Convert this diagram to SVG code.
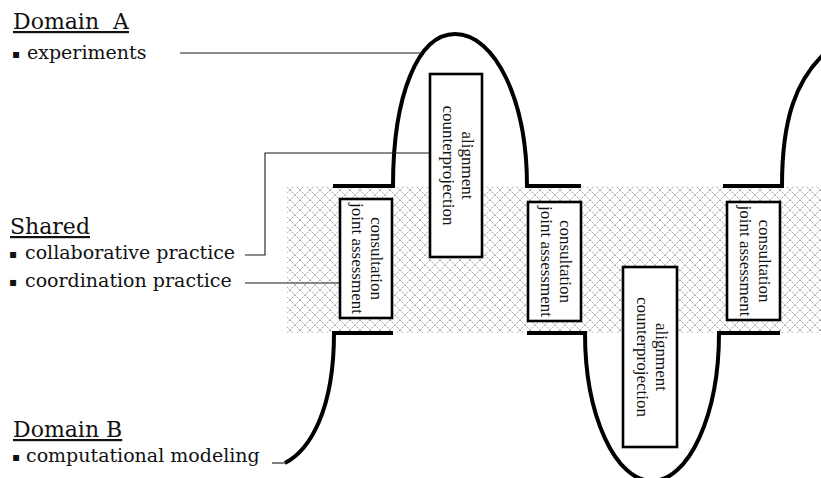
<svg xmlns="http://www.w3.org/2000/svg" width="821" height="478" viewBox="0 0 821 478">
<defs>
<pattern id="hatch" width="10" height="10" patternUnits="userSpaceOnUse">
<path d="M0,0 L10,10 M10,0 L0,10" stroke="#a6a6a6" stroke-width="1" stroke-dasharray="1.6,0.8" fill="none"/>
</pattern>
<style>
.lbl{font-family:"DejaVu Serif","Liberation Serif",serif;fill:#111;}
.head{font-size:22px;text-decoration:underline;white-space:pre;}
.item{font-size:19px;}
.bul{font-family:"DejaVu Sans",sans-serif;font-size:12px;}
.box{fill:#fff;stroke:#000;stroke-width:2.6;}
.bt{font-family:"Liberation Serif","Times New Roman",serif;font-size:17px;fill:#111;text-anchor:middle;}
.wave{fill:none;stroke:#000;stroke-width:4;stroke-linejoin:miter;}
.conn{fill:none;stroke:#1a1a1a;stroke-width:1.1;}
</style>
</defs>
<rect id="shared-band" x="287" y="186" width="534" height="147" fill="url(#hatch)"/>
<g id="wave">
<path class="wave" d="M285,463 C310,450 334,410 334,333 H393"/>
<path class="wave" d="M333,186 H393 C393,95 418,34 455,34 C495,34 527,100 527,186 H581"/>
<path class="wave" d="M527,333 H585 A67,148 0 0 0 719,333 H780"/>
<path class="wave" d="M723,186 H782 C782,118 796,80 826,52"/>
</g>
<g id="connectors">
<path class="conn" d="M180,53 H423"/>
<path class="conn" d="M245,255 H265 V153 H430"/>
<path class="conn" d="M245,283 H340"/>
<path class="conn" d="M272,463 H286"/>
</g>
<g id="legend-domain-a">
<text class="lbl head" x="13" y="29">Domain  A</text>
<text class="lbl item" y="59"><tspan class="bul" x="12" dy="-1">▪</tspan><tspan x="27" dy="1">experiments</tspan></text>
</g>
<g id="legend-shared">
<text class="lbl head" x="10" y="234">Shared</text>
<text class="lbl item" y="259"><tspan class="bul" x="9" dy="-1">▪</tspan><tspan x="25" dy="1">collaborative practice</tspan></text>
<text class="lbl item" y="287"><tspan class="bul" x="9" dy="-1">▪</tspan><tspan x="25" dy="1">coordination practice</tspan></text>
</g>
<g id="legend-domain-b">
<text class="lbl head" x="13" y="437">Domain B</text>
<text class="lbl item" y="462"><tspan class="bul" x="12" dy="-1">▪</tspan><tspan x="26" dy="1">computational modeling</tspan></text>
</g>
<g id="box-consult-1">
<rect class="box" x="340" y="199" width="52" height="119"/>
<g transform="translate(366,258.5) rotate(90)"><text class="bt" y="-5">consultation</text><text class="bt" y="14">joint assessment</text></g>
</g>
<g id="box-align-1">
<rect class="box" x="430" y="74" width="52" height="183"/>
<g transform="translate(456,165.5) rotate(90)"><text class="bt" y="-5.5">alignment</text><text class="bt" y="13.5">counterprojection</text></g>
</g>
<g id="box-consult-2">
<rect class="box" x="528" y="202" width="53" height="119"/>
<g transform="translate(554.5,261.5) rotate(90)"><text class="bt" y="-5">consultation</text><text class="bt" y="14">joint assessment</text></g>
</g>
<g id="box-align-2">
<rect class="box" x="623" y="267" width="54" height="180"/>
<g transform="translate(650,357) rotate(90)"><text class="bt" y="-5.5">alignment</text><text class="bt" y="13.5">counterprojection</text></g>
</g>
<g id="box-consult-3">
<rect class="box" x="727" y="202" width="53" height="118"/>
<g transform="translate(753.5,261) rotate(90)"><text class="bt" y="-5">consultation</text><text class="bt" y="14">joint assessment</text></g>
</g>
</svg>
